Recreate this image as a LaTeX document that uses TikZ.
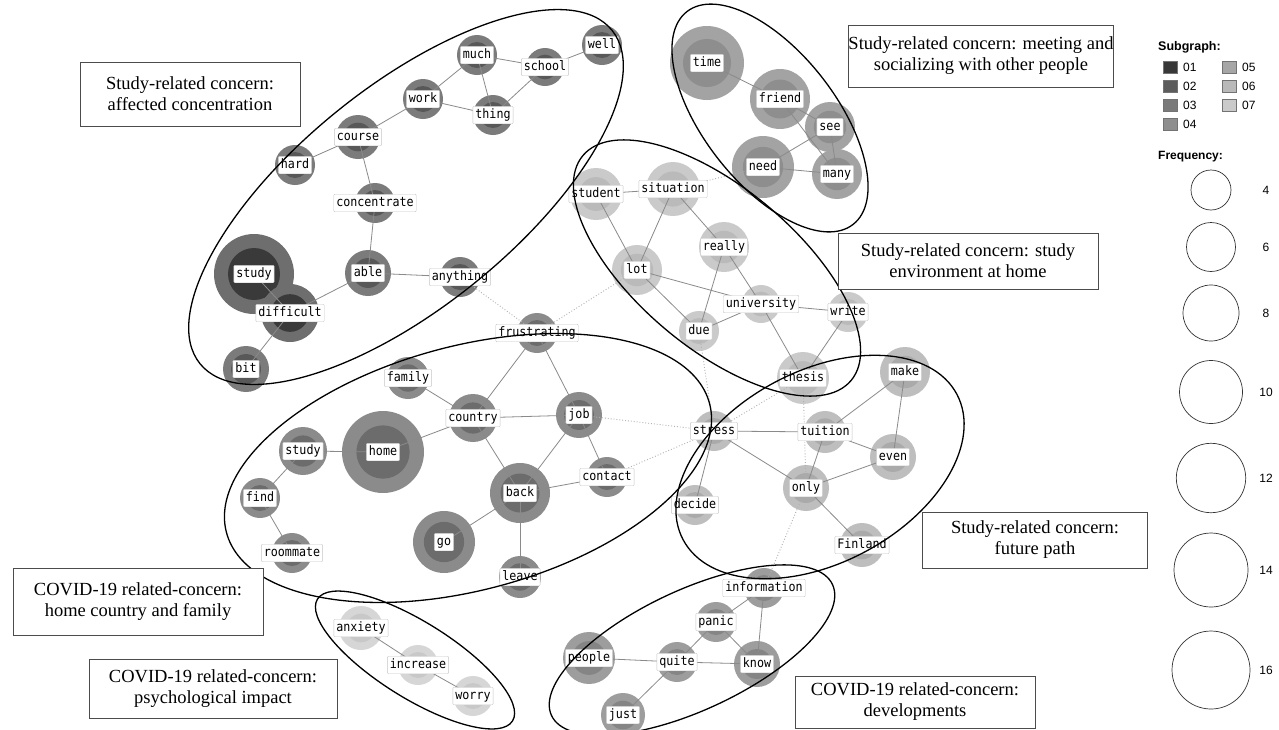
\documentclass[tikz,border=0pt]{standalone}
\usepackage{fontspec}
\setmainfont{Liberation Serif}
\newfontfamily\lblfont[FakeStretch=0.9]{DejaVu Sans Mono}
\newfontfamily\legfont{Liberation Sans}
\definecolor{gAo}{HTML}{7B7B7B}\definecolor{gAi}{HTML}{585858}
\definecolor{gSo}{HTML}{6E6E6E}\definecolor{gSi}{HTML}{3A3A3A}
\definecolor{gBo}{HTML}{8B8B8B}\definecolor{gBi}{HTML}{6C6C6C}
\definecolor{gCo}{HTML}{A3A3A3}\definecolor{gCi}{HTML}{8E8E8E}
\definecolor{gDo}{HTML}{CACACA}\definecolor{gDi}{HTML}{BABABA}
\definecolor{gEo}{HTML}{BEBEBE}\definecolor{gEi}{HTML}{AAAAAA}
\definecolor{gFo}{HTML}{D6D6D6}\definecolor{gFi}{HTML}{C8C8C8}
\definecolor{gGo}{HTML}{9D9D9D}\definecolor{gGi}{HTML}{858585}
\definecolor{sg1}{HTML}{383838}\definecolor{sg2}{HTML}{5C5C5C}
\definecolor{sg3}{HTML}{7A7A7A}\definecolor{sg4}{HTML}{8E8E8E}
\definecolor{sg5}{HTML}{A6A6A6}\definecolor{sg6}{HTML}{B9B9B9}
\definecolor{sg7}{HTML}{CACACA}
\definecolor{edgec}{HTML}{8A8A8A}\definecolor{dotc}{HTML}{B0B0B0}
\newcommand\mkw[5]{%
  \node[wnode, minimum size={2*#4pt}, fill=#5o] (#1) at (#2,#3) {};
  \fill[#5i] (#1.center) circle [radius={0.65*#4pt}];}
\begin{document}
\begin{tikzpicture}[x=1pt,y=-1pt,
  wnode/.style={circle, inner sep=0pt, draw=none},
  lbl/.style={fill=white, draw=gray!45, line width=0.4pt, inner xsep=2.5pt, inner ysep=2.5pt,
    font=\lblfont\fontsize{13}{13}\selectfont, text height=9.5pt, text depth=3pt, rounded corners=1pt},
  edge/.style={draw=edgec, line width=0.8pt},
  dedge/.style={draw=dotc, line width=0.9pt, dotted},
  grp/.style={draw=black, line width=1.3pt},
  tbox/.style={draw=black!70, line width=0.8pt, fill=white, align=center, inner sep=0pt,
    font=\fontsize{18.5}{21}\selectfont},
  sq/.style={draw=black!55, line width=0.4pt, minimum width=14pt, minimum height=12pt, inner sep=0pt},
  legt/.style={font=\legfont\fontsize{12}{12}\selectfont, anchor=west, inner sep=0pt},
  fcirc/.style={circle, draw=black!80, line width=0.7pt, inner sep=0pt}]
\useasboundingbox (0,0) rectangle (1279,729);
\fill[white] (0,0) rectangle (1279,729);
% ---- circles
\mkw{much}{477}{55}{20}{gA}
\mkw{school}{545}{67}{19}{gA}
\mkw{well}{602}{45}{20}{gA}
\mkw{work}{423}{99}{20}{gA}
\mkw{thing}{493}{115}{20}{gA}
\mkw{course}{358}{137}{22}{gA}
\mkw{hard}{295}{165}{20}{gA}
\mkw{concentrate}{375}{203}{20}{gA}
\mkw{able}{368}{273}{23}{gA}
\mkw{anything}{460}{277}{20}{gA}
\mkw{bit}{246}{369}{23}{gA}
\mkw{study}{254}{274}{40}{gS}
\mkw{difficult}{290}{313}{29}{gS}
\mkw{frustrating}{537}{333}{20}{gB}
\mkw{family}{408}{378}{21}{gB}
\mkw{country}{473}{418}{24}{gB}
\mkw{job}{579}{415}{23}{gB}
\mkw{studyb}{303}{451}{24}{gB}
\mkw{home}{383}{452}{41}{gB}
\mkw{find}{260}{498}{20}{gB}
\mkw{roommate}{292}{553}{20}{gB}
\mkw{back}{520}{493}{30}{gB}
\mkw{contact}{607}{477}{20}{gB}
\mkw{go}{444}{542}{31}{gB}
\mkw{leave}{520}{577}{21}{gB}
\mkw{time}{707}{63}{37}{gC}
\mkw{friend}{780}{99}{30}{gC}
\mkw{see}{830}{127}{25}{gC}
\mkw{need}{763}{167}{31}{gC}
\mkw{many}{837}{174}{25}{gC}
\mkw{student}{596}{194}{26}{gD}
\mkw{situation}{673}{189}{27}{gD}
\mkw{really}{724}{247}{25}{gD}
\mkw{lot}{637}{270}{25}{gD}
\mkw{university}{761}{304}{19}{gD}
\mkw{due}{699}{331}{20}{gD}
\mkw{write}{848}{312}{20}{gD}
\mkw{thesis}{803}{378}{26}{gD}
\mkw{make}{905}{372}{25}{gE}
\mkw{stress}{714}{431}{20}{gE}
\mkw{tuition}{825}{432}{21}{gE}
\mkw{even}{893}{457}{23}{gE}
\mkw{only}{806}{488}{23}{gE}
\mkw{decide}{695}{505}{20}{gE}
\mkw{Finland}{862}{545}{22}{gE}
\mkw{information}{764}{588}{20}{gG}
\mkw{panic}{716}{622}{20}{gG}
\mkw{people}{589}{658}{26}{gG}
\mkw{quite}{677}{662}{20}{gG}
\mkw{know}{757}{664}{23}{gG}
\mkw{just}{623}{715}{22}{gG}
\mkw{anxiety}{361}{628}{22}{gF}
\mkw{increase}{418}{665}{20}{gF}
\mkw{worry}{473}{696}{20}{gF}
% ---- edges
\foreach \a/\b in {much/work,much/school,much/thing,school/well,school/thing,work/thing,
  work/course,course/hard,course/concentrate,concentrate/able,able/difficult,able/anything,
  study/difficult,difficult/bit,
  frustrating/country,frustrating/job,family/country,country/job,country/home,country/back,
  job/back,job/contact,back/contact,back/go,back/leave,home/studyb,studyb/find,find/roommate,
  student/situation,student/lot,situation/lot,situation/really,really/due,really/university,
  lot/university,lot/due,due/university,university/write,university/thesis,write/thesis,
  time/friend,friend/see,friend/many,need/see,need/many,see/many,
  stress/tuition,stress/only,stress/decide,tuition/make,tuition/even,tuition/only,make/even,
  even/only,only/Finland,
  anxiety/increase,increase/worry,
  people/quite,quite/panic,quite/know,quite/just,panic/know,panic/information,information/know}
  \draw[edge] (\a.center) -- (\b.center);
\foreach \a/\b in {anything/frustrating,frustrating/lot,job/stress,contact/stress,stress/thesis,
  stress/due,only/information,thesis/only,situation/need}
  \draw[dedge] (\a.center) -- (\b.center);
% ---- labels
\foreach \n/\t in {much/much,school/school,well/well,work/work,thing/thing,course/course,hard/hard,
  concentrate/concentrate,able/able,anything/anything,bit/bit,study/study,difficult/difficult,
  frustrating/frustrating,family/family,country/country,job/job,studyb/study,home/home,find/find,
  roommate/roommate,back/back,contact/contact,go/go,leave/leave,time/time,friend/friend,see/see,
  need/need,many/many,student/student,situation/situation,really/really,lot/lot,
  university/university,due/due,write/write,thesis/thesis,make/make,stress/stress,
  tuition/tuition,even/even,only/only,decide/decide,Finland/Finland,information/information,
  panic/panic,people/people,quite/quite,know/know,just/just,anxiety/anxiety,increase/increase,
  worry/worry}
  \node[lbl] (\n-l) at (\n) {\t};
% ---- group ellipses
\draw[grp, rotate around={39:(406,197)}] (406,197) ellipse [x radius=265pt, y radius=110pt];
\draw[grp, rotate around={-52:(770,118)}] (770,118) ellipse [x radius=135pt, y radius=66pt];
\draw[grp, rotate around={-40:(717,268)}] (717,268) ellipse [x radius=175pt, y radius=80pt];
\draw[grp, rotate around={15:(468,468)}] (468,468) ellipse [x radius=250pt, y radius=122pt];
\draw[grp, rotate around={28:(820,467)}] (820,467) ellipse [x radius=155pt, y radius=96pt];
\draw[grp, rotate around={-32:(415,660)}] (415,660) ellipse [x radius=115pt, y radius=38pt];
\draw[grp, rotate around={25:(692,650)}] (692,650) ellipse [x radius=155pt, y radius=60pt];
% ---- text boxes
\node[tbox, minimum width=220pt, minimum height=64pt] (t1) at (190,94) {Study-related concern:\\affected concentration};
\node[tbox, minimum width=264pt, minimum height=62pt] (t2) at (981,56) {Study-related concern: meeting and\\socializing with other people};
\node[tbox, minimum width=260pt, minimum height=56pt] (t3) at (968,261) {Study-related concern: study\\environment at home};
\node[tbox, minimum width=225pt, minimum height=56pt] (t4) at (1035,540) {Study-related concern:\\future path};
\node[tbox, minimum width=250pt, minimum height=67pt] (t5) at (138,602) {COVID-19 related-concern:\\home country and family};
\node[tbox, minimum width=248pt, minimum height=59pt] (t6) at (213,689) {COVID-19 related-concern:\\psychological impact};
\node[tbox, minimum width=240pt, minimum height=52pt] (t7) at (915,702) {COVID-19 related-concern:\\developments};
% ---- legend
\node[legt, font=\legfont\bfseries\fontsize{12.5}{12.5}\selectfont] (lsub) at (1158,47) {Subgraph:};
\node[sq, fill=sg1] (s1) at (1170,67) {}; \node[legt] (s1t) at (1183,67) {01};
\node[sq, fill=sg2] (s2) at (1170,86) {}; \node[legt] (s2t) at (1183,86) {02};
\node[sq, fill=sg3] (s3) at (1170,105) {}; \node[legt] (s3t) at (1183,105) {03};
\node[sq, fill=sg4] (s4) at (1170,124) {}; \node[legt] (s4t) at (1183,124) {04};
\node[sq, fill=sg5] (s5) at (1229,67) {}; \node[legt] (s5t) at (1242,67) {05};
\node[sq, fill=sg6] (s6) at (1229,86) {}; \node[legt] (s6t) at (1242,86) {06};
\node[sq, fill=sg7] (s7) at (1229,105) {}; \node[legt] (s7t) at (1242,105) {07};
\node[legt, font=\legfont\bfseries\fontsize{12}{12}\selectfont] (lfreq) at (1158,157) {Frequency:};
\foreach \y/\r/\v in {190/20/4,247/24.5/6,313/28/8,392/31.5/10,478/34.7/12,570/37/14,670/39/16}{
  \node[fcirc, minimum size={2*\r pt}] (f\v) at (1211,\y) {};
  \node[font=\legfont\fontsize{12}{12}\selectfont, inner sep=0pt] (f\v t) at (1266,\y) {\v};
}
\end{tikzpicture}
\end{document}
